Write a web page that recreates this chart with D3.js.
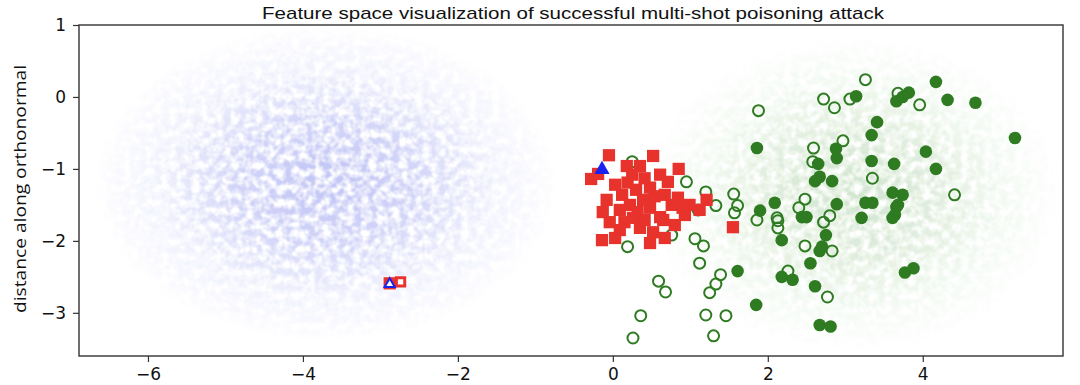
<!DOCTYPE html>
<html>
<head>
<meta charset="utf-8">
<script src="https://cdn.jsdelivr.net/npm/d3@7"></script>
<style>
  body { margin: 0; background: #fff; }
  svg { display: block; }
  .tick text { font-family: "DejaVu Sans", sans-serif; font-size: 17px; fill: #111; }
  .tick line, .domain { stroke: #333; }
</style>
</head>
<body>
<svg id="chart" width="1080" height="385"></svg>
<script>
// faint background clouds (class distributions), centre and spread in data units
var cloudNames = ['base', 'target'];
var cloudColors = ['#3a46e0', '#2f8a24'];
var cloudCenterX = [-3.7, 3.1];
var cloudCenterY = [-1.2, -1.35];
var cloudSpreadX = [3.0, 2.7];
var cloudSpreadY = [2.2, 2.2];
var cloudPeak = [0.32, 0.22];

// poison instances (red squares)
var poisons = [
  [-0.05, -0.81], [0.52, -0.82], [0.85, -1.0], [-0.28, -1.14], [-0.19, -1.07],
  [-0.08, -1.43], [-0.13, -1.6], [-0.04, -1.74], [-0.14, -1.99], [0.15, -1.74],
  [0.35, -1.82], [0.52, -1.88], [0.48, -2.03], [0.76, -1.5], [0.93, -1.64],
  [0.65, -1.71], [1.21, -1.43], [1.55, -1.81], [0.18, -0.96], [0.35, -0.96],
  [0.25, -1.08], [0.41, -1.13], [0.61, -1.08], [0.71, -1.18], [0.48, -1.26],
  [0.3, -1.29], [0.12, -1.36], [0.22, -1.5], [0.39, -1.43], [0.54, -1.38],
  [0.67, -1.36], [0.09, -1.57], [0.32, -1.6], [0.48, -1.54], [0.84, -1.4],
  [0.99, -1.5], [0.03, -1.22], [0.19, -1.19], [0.61, -1.67], [0.8, -1.78],
  [0.41, -1.71], [0.09, -1.85], [0.9, -1.54], [1.12, -1.57], [0.26, -1.68],
  [0.03, -1.96], [0.67, -1.96]
];

// base instance (blue triangle)
var baseInstance = [[-0.14, -1.01]];

// target class test points, open circles
var targetOpen = [
  [3.26, 0.24], [2.72, -0.03], [2.86, -0.15], [3.06, -0.03], [1.88, -0.19],
  [3.68, 0.05], [3.96, -0.11], [2.97, -0.61], [2.59, -0.71], [2.58, -0.9],
  [3.35, -1.13], [4.41, -1.36], [1.56, -1.35], [1.61, -1.51], [1.57, -1.61],
  [2.48, -1.42], [2.4, -1.54], [2.8, -1.65], [2.12, -1.68], [0.25, -0.9],
  [0.95, -1.18], [1.2, -1.32], [1.33, -1.51], [1.1, -1.57], [0.76, -1.92],
  [1.06, -1.97], [1.17, -2.07], [0.19, -2.08], [1.86, -1.71], [2.13, -1.72],
  [2.13, -1.82], [2.72, -1.74], [1.12, -2.31], [2.48, -2.07], [2.83, -2.14],
  [2.26, -2.42], [1.39, -2.47], [1.33, -2.6], [1.25, -2.72], [0.59, -2.56],
  [0.68, -2.71], [2.77, -2.78], [0.36, -3.04], [1.2, -3.03], [1.46, -3.04],
  [0.26, -3.35], [1.3, -3.32]
];

// target class test points, filled circles
var targetFilled = [
  [4.17, 0.21], [3.14, 0.01], [3.66, -0.06], [3.74, 0.0], [3.82, 0.06],
  [4.32, -0.04], [4.68, -0.08], [5.19, -0.57], [3.41, -0.35], [3.34, -0.53],
  [1.86, -0.71], [2.88, -0.72], [2.89, -0.85], [4.04, -0.76], [4.17, -1.0],
  [3.34, -0.89], [3.63, -0.93], [2.65, -0.93], [2.67, -1.11], [2.61, -1.17],
  [2.83, -1.17], [2.09, -1.47], [1.9, -1.58], [2.89, -1.49], [3.26, -1.47],
  [3.35, -1.47], [3.61, -1.33], [3.74, -1.36], [3.66, -1.53], [3.64, -1.64],
  [2.44, -1.67], [2.5, -1.67], [3.21, -1.68], [3.68, -1.5], [3.61, -1.68],
  [2.18, -1.99], [2.75, -1.92], [2.67, -2.14], [2.7, -2.08], [2.55, -2.31],
  [1.61, -2.42], [2.18, -2.5], [2.32, -2.54], [2.61, -2.63], [3.77, -2.44],
  [3.88, -2.38], [1.85, -2.89], [2.67, -3.17], [2.81, -3.19]
];

// small markers inside the base cloud
var smallFilledSquares = [[-2.88, -2.59]];
var smallOpenSquares = [[-2.74, -2.57]];
var smallOpenTriangles = [[-2.88, -2.6]];

var xTicks = [-6, -4, -2, 0, 2, 4];
var yTicks = [1, 0, -1, -2, -3];

(function () {
  var svg = d3.select('#chart');
  var m = { left: 79, right: 1063, top: 25, bottom: 356 };

  var x = d3.scaleLinear().domain([-6.89, 5.81]).range([m.left, m.right]);
  var y = d3.scaleLinear().domain([-3.6, 1]).range([m.bottom, m.top]);

  var defs = svg.append('defs');

  defs.append('clipPath').attr('id', 'plotclip')
    .append('rect').attr('x', m.left).attr('y', m.top)
    .attr('width', m.right - m.left).attr('height', m.bottom - m.top);

  // mottled texture so the clouds look like many faint dots
  var speckle = defs.append('filter').attr('id', 'speckle')
    .attr('x', 0).attr('y', 0).attr('width', 1).attr('height', 1);
  speckle.append('feTurbulence')
    .attr('type', 'fractalNoise').attr('baseFrequency', 0.13)
    .attr('numOctaves', 2).attr('seed', 11).attr('result', 'noise');
  speckle.append('feColorMatrix')
    .attr('in', 'noise').attr('type', 'matrix')
    .attr('values', '0 0 0 0 0  0 0 0 0 0  0 0 0 0 0  2.6 0 0 0 -0.75')
    .attr('result', 'mask');
  speckle.append('feComposite')
    .attr('in', 'SourceGraphic').attr('in2', 'mask').attr('operator', 'in');

  cloudNames.forEach(function (name, i) {
    var g = defs.append('radialGradient').attr('id', 'grad-' + name);
    var p = cloudPeak[i];
    g.append('stop').attr('offset', '0%').attr('stop-color', cloudColors[i]).attr('stop-opacity', p);
    g.append('stop').attr('offset', '40%').attr('stop-color', cloudColors[i]).attr('stop-opacity', p * 0.7);
    g.append('stop').attr('offset', '70%').attr('stop-color', cloudColors[i]).attr('stop-opacity', p * 0.25);
    g.append('stop').attr('offset', '100%').attr('stop-color', cloudColors[i]).attr('stop-opacity', 0);
  });

  var plot = svg.append('g').attr('clip-path', 'url(#plotclip)');

  plot.selectAll('ellipse.cloud')
    .data(cloudNames)
    .enter().append('ellipse')
    .attr('class', 'cloud')
    .attr('cx', function (d, i) { return x(cloudCenterX[i]); })
    .attr('cy', function (d, i) { return y(cloudCenterY[i]); })
    .attr('rx', function (d, i) { return x(cloudSpreadX[i]) - x(0); })
    .attr('ry', function (d, i) { return y(0) - y(cloudSpreadY[i]); })
    .attr('fill', function (d) { return 'url(#grad-' + d + ')'; })
    .attr('filter', 'url(#speckle)');

  var red = '#e8322c', green = '#2e7b22', blue = '#1a22f0';
  function at(d) { return 'translate(' + x(d[0]) + ',' + y(d[1]) + ')'; }

  plot.selectAll('path.small-sq')
    .data(smallFilledSquares).enter().append('path')
    .attr('d', d3.symbol().type(d3.symbolSquare).size(150)())
    .attr('transform', at)
    .attr('fill', red);

  plot.selectAll('path.small-osq')
    .data(smallOpenSquares).enter().append('path')
    .attr('d', d3.symbol().type(d3.symbolSquare).size(70)())
    .attr('transform', at)
    .attr('fill', '#fff').attr('stroke', red).attr('stroke-width', 3);

  plot.selectAll('path.small-tri')
    .data(smallOpenTriangles).enter().append('path')
    .attr('d', d3.symbol().type(d3.symbolTriangle).size(45)())
    .attr('transform', at)
    .attr('fill', '#fff').attr('stroke', blue).attr('stroke-width', 2);

  plot.selectAll('circle.open')
    .data(targetOpen).enter().append('circle')
    .attr('cx', function (d) { return x(d[0]); })
    .attr('cy', function (d) { return y(d[1]); })
    .attr('r', 5.5)
    .attr('fill', 'none').attr('stroke', green).attr('stroke-width', 2);

  plot.selectAll('path.poison')
    .data(poisons).enter().append('path')
    .attr('d', d3.symbol().type(d3.symbolSquare).size(150)())
    .attr('transform', at)
    .attr('fill', red);

  plot.selectAll('circle.filled')
    .data(targetFilled).enter().append('circle')
    .attr('cx', function (d) { return x(d[0]); })
    .attr('cy', function (d) { return y(d[1]); })
    .attr('r', 6.3)
    .attr('fill', green);

  plot.selectAll('path.base')
    .data(baseInstance).enter().append('path')
    .attr('d', d3.symbol().type(d3.symbolTriangle).size(100)())
    .attr('transform', at)
    .attr('fill', blue);

  // axes
  svg.append('g')
    .attr('transform', 'translate(0,' + m.bottom + ')')
    .call(d3.axisBottom(x).tickValues(xTicks).tickSize(6).tickPadding(6).tickSizeOuter(0))
    .call(function (g) { g.select('.domain').remove(); });

  svg.append('g')
    .attr('transform', 'translate(' + m.left + ',0)')
    .call(d3.axisLeft(y).tickValues(yTicks).tickFormat(d3.format('d'))
      .tickSize(6).tickPadding(7).tickSizeOuter(0))
    .call(function (g) { g.select('.domain').remove(); });

  svg.selectAll('.tick line').attr('stroke-width', 1.2);

  svg.append('rect')
    .attr('x', m.left).attr('y', m.top)
    .attr('width', m.right - m.left).attr('height', m.bottom - m.top)
    .attr('fill', 'none').attr('stroke', '#333').attr('stroke-width', 1.4);

  svg.append('text')
    .attr('x', 573).attr('y', 19)
    .attr('text-anchor', 'middle')
    .attr('font-family', '"Liberation Sans Narrow", "Liberation Sans", sans-serif')
    .attr('font-size', 17)
    .attr('textLength', 622).attr('lengthAdjust', 'spacingAndGlyphs')
    .attr('fill', '#111')
    .text('Feature space visualization of successful multi-shot poisoning attack');

  svg.append('text')
    .attr('transform', 'translate(26,189) rotate(-90)')
    .attr('text-anchor', 'middle')
    .attr('font-family', '"Open Sans", "DejaVu Sans", sans-serif')
    .attr('font-size', 17)
    .attr('textLength', 248).attr('lengthAdjust', 'spacingAndGlyphs')
    .attr('fill', '#111')
    .text('distance along orthonormal');
})();
</script>
</body>
</html>
